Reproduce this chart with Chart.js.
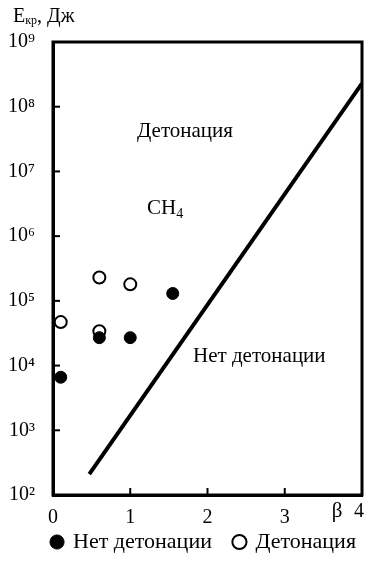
<!DOCTYPE html>
<html>
<head>
<meta charset="utf-8">
<script src="https://cdn.jsdelivr.net/npm/chart.js@4/dist/chart.umd.min.js"></script>
<style>
  html, body { margin: 0; padding: 0; background: #fff; overflow: hidden; }
  canvas { display: block; }
</style>
</head>
<body>
<canvas id="chart" width="365" height="566"></canvas>
<script>
// β values and critical energies
const noDetBeta = [0.1, 0.6, 1.0, 1.55]
const noDetE = [6600, 27000, 27000, 130000]
const detBeta = [0.1, 0.6, 0.6, 1.0]
const detE = [47000, 230000, 34000, 180000]
const boundaryBeta = [0.47, 4.0]
const boundaryE = [210, 2.3e8]
const yTicks = [1e2, 1e3, 1e4, 1e5, 1e6, 1e7, 1e8, 1e9]
const xTicks = [0, 1, 2, 3, 4]

const sup = { 0: "⁰", 1: "¹", 2: "²", 3: "³", 4: "⁴", 5: "⁵", 6: "⁶", 7: "⁷", 8: "⁸", 9: "⁹" }
const serif = "'Liberation Serif', 'DejaVu Serif', serif"

const toPoints = (xs, ys) => xs.map((x, i) => ({ x, y: ys[i] }))
const noPad = s => { s.paddingLeft = 0; s.paddingRight = 0; s.paddingTop = 0; s.paddingBottom = 0 }

// box around the plot, inward ticks and text labels
const decor = {
    id: "decor",
    afterDraw(chart) {
        const { ctx, chartArea: a, scales } = chart
        ctx.save()
        ctx.strokeStyle = "#000"
        ctx.lineWidth = 3
        ctx.strokeRect(a.left, a.top, a.right - a.left, a.bottom - a.top)

        ctx.lineWidth = 2
        yTicks.forEach(v => {
            const y = scales.y.getPixelForValue(v)
            ctx.beginPath()
            ctx.moveTo(a.left, y)
            ctx.lineTo(a.left + 7, y)
            ctx.stroke()
        })
        xTicks.forEach(v => {
            const x = scales.x.getPixelForValue(v)
            ctx.beginPath()
            ctx.moveTo(x, a.bottom)
            ctx.lineTo(x, a.bottom - 7)
            ctx.stroke()
        })

        ctx.fillStyle = "#000"
        ctx.textBaseline = "alphabetic"
        ctx.font = "20px " + serif
        ctx.fillText("E", 13, 22)
        let w = ctx.measureText("E").width
        ctx.font = "12px " + serif
        ctx.fillText("кр", 13 + w, 24)
        w += ctx.measureText("кр").width
        ctx.font = "20px " + serif
        ctx.fillText(", Дж", 13 + w, 22)

        ctx.font = "21px " + serif
        ctx.fillText("Детонация", 137, 137)
        ctx.fillText("Нет детонации", 193, 362)
        ctx.fillText("CH", 147, 214)
        const ch = ctx.measureText("CH").width
        ctx.font = "14px " + serif
        ctx.fillText("4", 147 + ch, 218)

        // last x tick label sits on the right border, drawn here so it does not shrink the plot
        ctx.font = "20px " + serif
        ctx.textAlign = "center"
        ctx.textBaseline = "middle"
        const lastX = xTicks[xTicks.length - 1]
        ctx.fillText(String(lastX), scales.x.getPixelForValue(lastX) - 3, a.bottom + 17)
        ctx.font = "21px " + serif
        ctx.fillText("β", 337, a.bottom + 16)
        ctx.restore()
    }
}

new Chart(document.getElementById("chart"), {
    type: "scatter",
    data: {
        datasets: [
            {
                label: "boundary",
                type: "line",
                data: toPoints(boundaryBeta, boundaryE),
                borderColor: "#000",
                borderWidth: 4,
                pointRadius: 0,
                fill: false
            },
            {
                label: "Нет детонации",
                data: toPoints(noDetBeta, noDetE),
                pointStyle: "circle",
                pointRadius: 6,
                backgroundColor: "#000",
                borderColor: "#000",
                borderWidth: 1
            },
            {
                label: "Детонация",
                data: toPoints(detBeta, detE),
                pointStyle: "circle",
                pointRadius: 6,
                backgroundColor: "#fff",
                borderColor: "#000",
                borderWidth: 2
            }
        ]
    },
    options: {
        responsive: false,
        animation: false,
        layout: { autoPadding: false, padding: { top: 42, right: 3, left: 0, bottom: 3 } },
        plugins: {
            tooltip: { enabled: false },
            legend: {
                position: "bottom",
                align: "end",
                labels: {
                    filter: item => item.text !== "boundary",
                    usePointStyle: true,
                    boxWidth: 10,
                    boxHeight: 10,
                    padding: 6,
                    color: "#000",
                    font: { family: serif, size: 22 },
                    generateLabels: chart => {
                        const items = Chart.defaults.plugins.legend.labels.generateLabels(chart)
                        items.forEach(it => { if (it.text === "Нет детонации") it.text += "   " })
                        return items
                    }
                }
            }
        },
        scales: {
            x: {
                type: "linear",
                min: 0,
                max: 4,
                afterFit: s => { s.height = 30; noPad(s) },
                afterBuildTicks: s => { s.ticks = xTicks.map(v => ({ value: v })) },
                ticks: {
                    color: "#000",
                    padding: 3,
                    font: { family: serif, size: 20 },
                    callback: v => v === xTicks[xTicks.length - 1] ? "" : String(v)
                },
                grid: { display: false },
                border: { color: "#000", width: 3 }
            },
            y: {
                type: "logarithmic",
                min: 100,
                max: 1e9,
                afterFit: s => { s.width = 53; noPad(s) },
                afterBuildTicks: s => { s.ticks = yTicks.map(v => ({ value: v })) },
                ticks: {
                    color: "#000",
                    padding: 10,
                    font: { family: serif, size: 20 },
                    callback: v => "10" + sup[Math.round(Math.log10(v))]
                },
                grid: { display: false },
                border: { color: "#000", width: 3 }
            }
        }
    },
    plugins: [decor]
})
</script>
</body>
</html>
